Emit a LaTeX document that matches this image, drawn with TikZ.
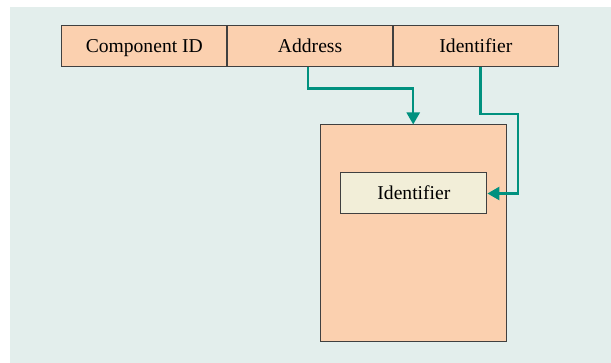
\documentclass[tikz,border=0pt]{standalone}
\usepackage{fontspec}
\setmainfont{Liberation Serif}
\usetikzlibrary{positioning,arrows.meta}

\definecolor{panelbg}{HTML}{E3EEEC}
\definecolor{peach}{HTML}{FBD0AF}
\definecolor{cream}{HTML}{F2EED8}
\definecolor{teal}{HTML}{00917F}
\definecolor{edge}{HTML}{404040}

\begin{document}
\begin{tikzpicture}[x=0.5pt,y=-0.5pt,
    field/.style={draw=edge,fill=peach,line width=0.5pt,minimum width=82.4pt,minimum height=20.5pt,inner sep=0pt,
        text height=8pt,text depth=1.6pt,font=\rmfamily\fontsize{9.8}{12}\selectfont},
    flow/.style={draw=teal,line width=1.2pt,-{Triangle[width=6.5pt,length=6pt]}}]
    % Define the frame and background
    \useasboundingbox (0,0) rectangle (611,363);
    \fill[panelbg] (10,7) rectangle (611,363);

    % Draw the record fields
    \node[field] (compid) at (144.3,46.5) {Component ID};
    \node[field,right=0pt of compid] (addr) {Address};
    \node[field,right=0pt of addr] (ident) {Identifier};

    % Draw the stored object and its identifier
    \node[field,minimum width=93pt,minimum height=108.5pt] (store) at (413.2,233.5) {};
    \node[field,fill=cream,minimum width=73pt] (identin) at (413.9,193.5) {Identifier};

    % Draw the pointers
    \coordinate (bend) at (517.7,114);
    \draw[flow] ([xshift=-1pt]addr.south) |- ++(0,21) -| (store.north);
    \draw[flow] ([xshift=2.25pt]ident.south) |- (bend) |- (identin.east);
\end{tikzpicture}
\end{document}
